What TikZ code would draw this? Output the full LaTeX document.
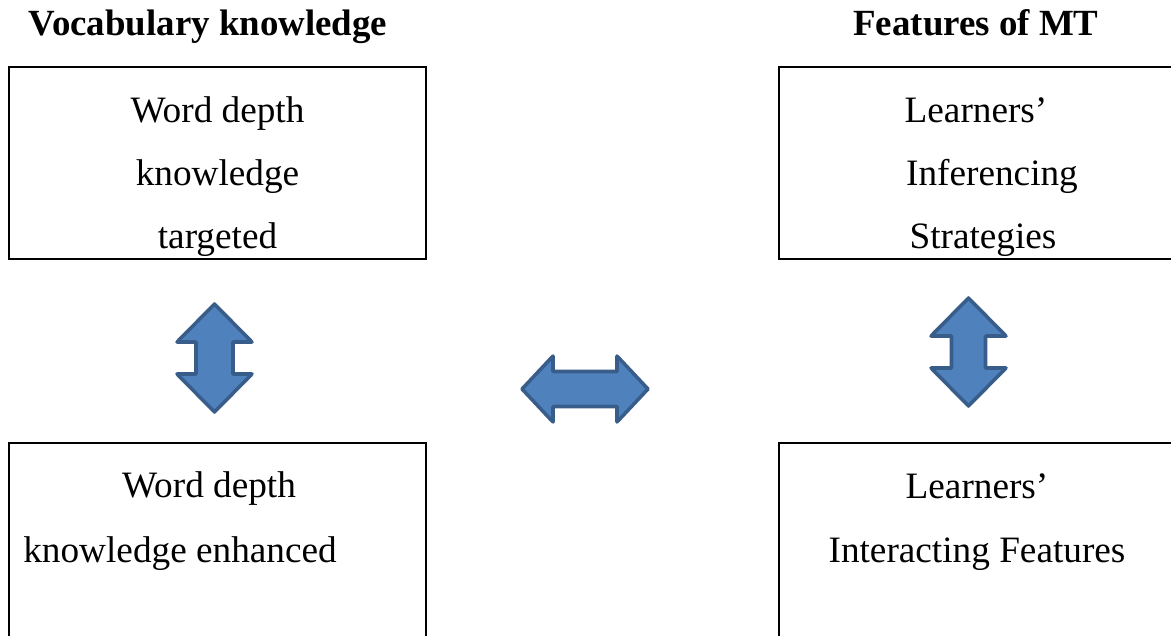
\documentclass[tikz,border=0pt]{standalone}
\usepackage{fontspec}
\setmainfont{Liberation Serif}
\definecolor{arrowblue}{RGB}{79, 129, 189}
\definecolor{arrowedge}{RGB}{56, 93, 138}
\usetikzlibrary{positioning}

\begin{document}
\begin{tikzpicture}[x=0.02cm, y=-0.02cm,
    box/.style={draw, line width=1.3pt, inner sep=0pt},
    head/.style={font=\fontsize{21}{24}\selectfont\bfseries, anchor=base, inner sep=0pt},
    txt/.style={font=\fontsize{21.2}{24}\selectfont, anchor=base, inner sep=0pt},
    blockarrow/.style={fill=arrowblue, draw=arrowedge, line width=2pt, line join=round}
  ]
  \useasboundingbox (0,0) rectangle (1171,636);
  \clip (0,0) rectangle (1171,636);

  % Titles
  \node[head] (vocab) at (208, 35) {Vocabulary knowledge};
  \node[head] (feat) at (976, 35) {Features of MT};

  % Boxes
  \node[box, minimum width=8.34cm, minimum height=3.84cm] (target) at (217.5, 163) {};
  \node[box, minimum width=8.26cm, minimum height=3.84cm] (infer) at (985.5, 163) {};
  \node[box, minimum width=8.34cm, minimum height=4.24cm] (enhance) at (217.5, 549) {};
  \node[box, minimum width=8.26cm, minimum height=4.24cm] (interact) at (985.5, 549) {};

  % Box texts
  \node[txt] (t1) at (217.5, 122) {Word depth};
  \node[txt] (t2) at (217.5, 185) {knowledge};
  \node[txt] (t3) at (217.5, 248) {targeted};
  \node[txt] (i1) at (976, 122) {Learners’};
  \node[txt] (i2) at (992, 185) {Inferencing};
  \node[txt] (i3) at (983, 248) {Strategies};
  \node[txt] (e1) at (209, 497) {Word depth};
  \node[txt, anchor=base west] (e2) at (23, 562) {knowledge enhanced};
  \node[txt] (f1) at (977, 498) {Learners’};
  \node[txt] (f2) at (977, 562) {Interacting Features};

  % Vertical arrows
  \foreach \cx/\ty/\by/\sw in {214.5/304/412/18.5, 968.5/298/406/17}{
    \draw[blockarrow] (\cx, \ty) -- (\cx+37.5, \ty+38) -- (\cx+\sw, \ty+38)
      -- (\cx+\sw, \by-38) -- (\cx+37.5, \by-38) -- (\cx, \by)
      -- (\cx-37.5, \by-38) -- (\cx-\sw, \by-38) -- (\cx-\sw, \ty+38)
      -- (\cx-37.5, \ty+38) -- cycle;
  }

  % Horizontal arrow
  \draw[blockarrow] (522, 389) -- (553, 356) -- (553, 371.5) -- (617, 371.5)
    -- (617, 356) -- (648, 389) -- (617, 422) -- (617, 406.5)
    -- (553, 406.5) -- (553, 422) -- cycle;
\end{tikzpicture}
\end{document}
